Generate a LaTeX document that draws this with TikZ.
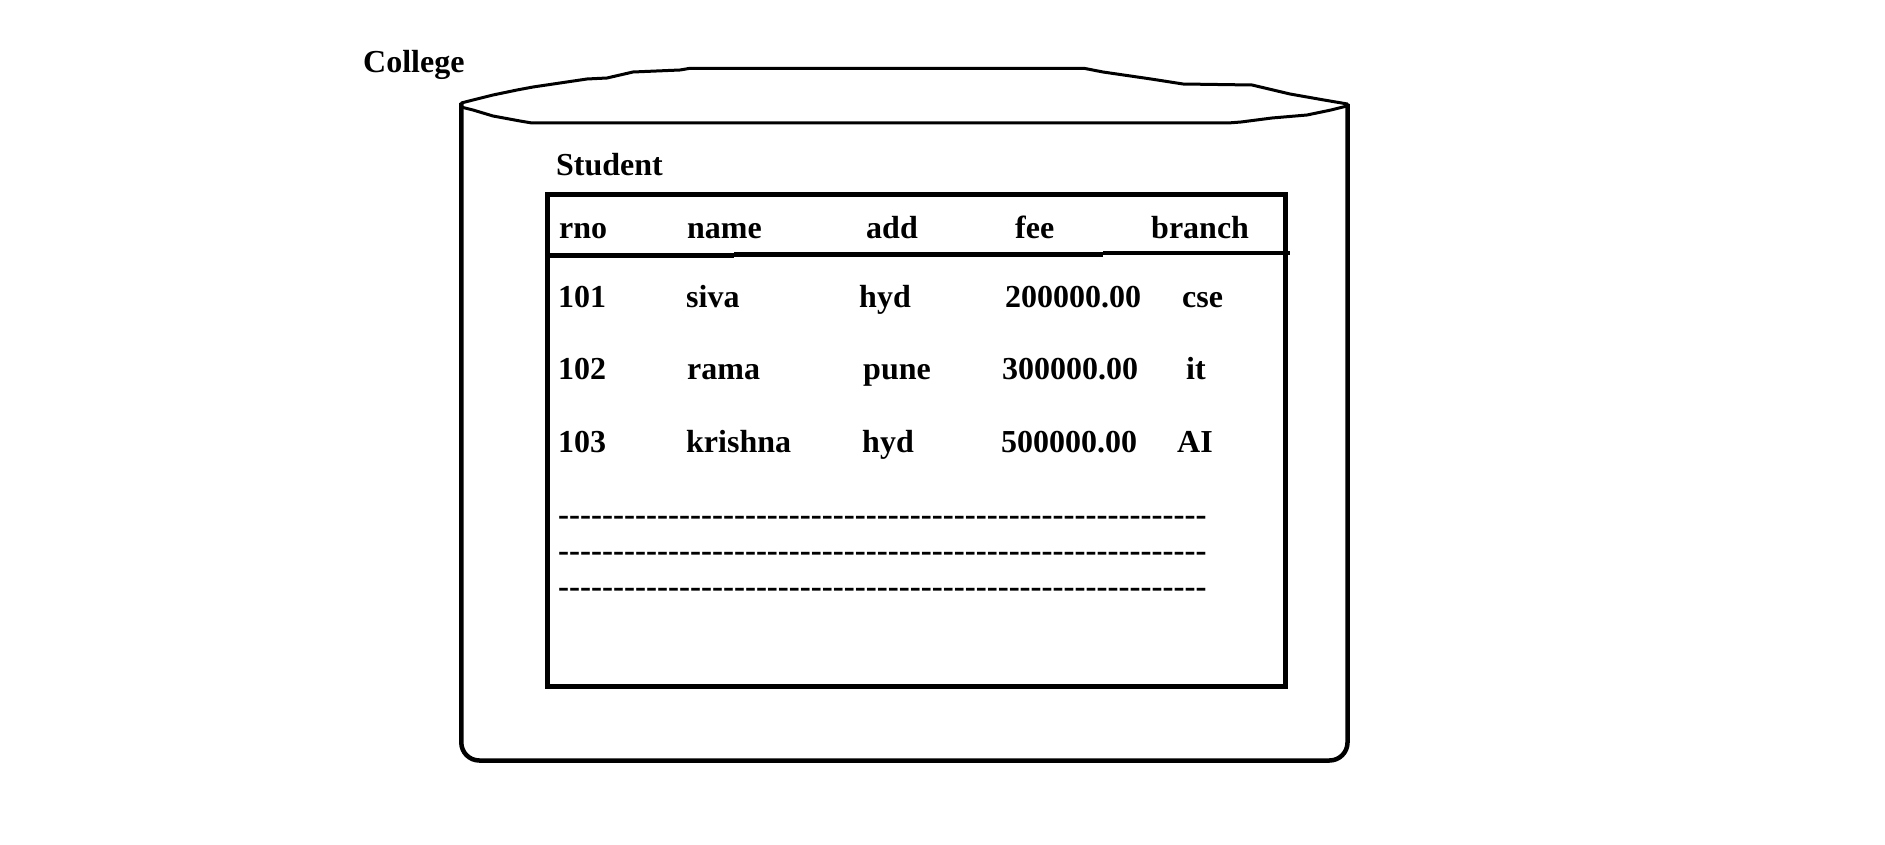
\documentclass[tikz,border=0pt]{standalone}
\usepackage{fontspec}
\setmainfont{Liberation Serif}
\newfontfamily\dashfont{Liberation Serif}
\begin{document}
\begin{tikzpicture}[x=1pt,y=-1pt,
  txt/.style={anchor=base west,inner sep=0pt,font=\fontsize{32}{38}\selectfont\bfseries},
  dashtxt/.style={anchor=base west,inner sep=0pt,font=\dashfont\fontsize{33}{38}\selectfont\bfseries},
  side/.style={line width=4.5pt,line join=round},
  lid/.style={line width=3pt,line join=round,line cap=round},
  tbl/.style={line width=5pt}]
\useasboundingbox (0,0) rectangle (1885,845);
% cylinder body
\coordinate (cl) at (461.3,103);
\coordinate (cr) at (1347.5,104);
\draw[side,rounded corners=18pt] (cl) -- (461.3,760.5) -- (1347.5,760.5) -- (cr);
% lid upper
\draw[lid] (cl) -- (473,100) -- (493,95) -- (517,90) -- (533,87) -- (560,83) -- (587,79) -- (607,78) -- (633,72) -- (680,70) -- (690,68.3) -- (1084,68.3) -- (1103,72) -- (1151,79) -- (1183,84) -- (1252,85) -- (1290,94) -- (1324,100) -- (cr);
% lid lower
\draw[lid] (461,107) -- (473,110) -- (493,116) -- (520,121) -- (532,123) -- (1228,123) -- (1241,122) -- (1272,118) -- (1307,115) -- (1331,110) -- (1347,106);
% labels
\node[txt] (college) at (363,72.7) {College};
\node[txt] (student) at (556,175.7) {Student};
% table
\coordinate (tl) at (547,194.7);
\coordinate (br) at (1285,686.5);
\draw[tbl] (tl) rectangle (br);
\draw[line width=5pt] (547,255.5) -- (734,255.5);
\draw[line width=4.5pt] (734,254.5) -- (1103,254.5);
\draw[line width=4.5pt] (1103,253) -- (1290,253);
% header
\node[txt] (hrno) at (559,239) {rno};
\node[txt] (hname) at (687,239) {name};
\node[txt] (hadd) at (866,239) {add};
\node[txt] (hfee) at (1015,239) {fee};
\node[txt] (hbranch) at (1151,239) {branch};
% rows
\node[txt] (r1a) at (558,307.7) {101};
\node[txt] (r1b) at (686,307.7) {siva};
\node[txt] (r1c) at (859,307.7) {hyd};
\node[txt] (r1d) at (1005,307.7) {200000.00};
\node[txt] (r1e) at (1182,307.7) {cse};
\node[txt] (r2a) at (558,379) {102};
\node[txt] (r2b) at (687,379) {rama};
\node[txt] (r2c) at (863,379) {pune};
\node[txt] (r2d) at (1002,379) {300000.00};
\node[txt] (r2e) at (1186,379) {it};
\node[txt] (r3a) at (558,452) {103};
\node[txt] (r3b) at (686,452) {krishna};
\node[txt] (r3c) at (862,452) {hyd};
\node[txt] (r3d) at (1001,452) {500000.00};
\node[txt] (r3e) at (1177,452) {AI};
% dashed text lines
\def\dashes{-----------------------------------------------------------}
\node[dashtxt] (d1) at (558,525) {\dashes};
\node[dashtxt] (d2) at (558,561) {\dashes};
\node[dashtxt] (d3) at (558,597) {\dashes};
\end{tikzpicture}
\end{document}
